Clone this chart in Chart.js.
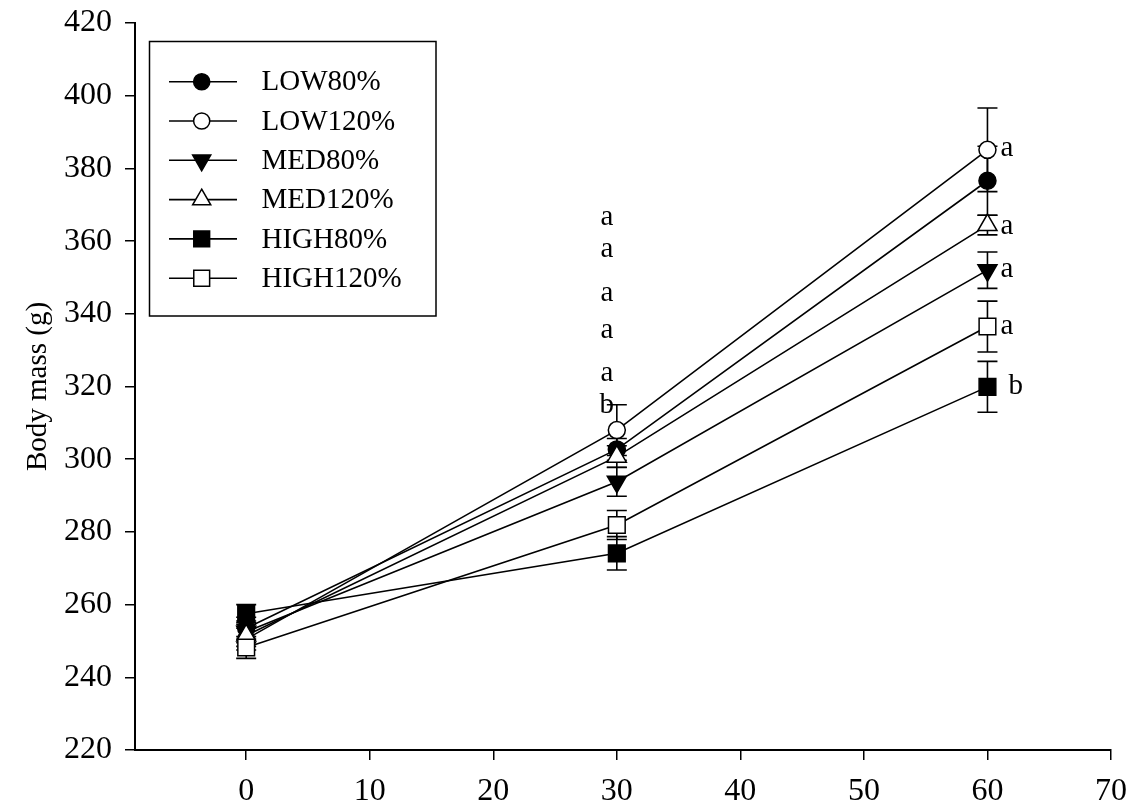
<!DOCTYPE html>
<html><head><meta charset="utf-8">
<style>html,body{margin:0;padding:0;background:#fff}#wrap{width:1132px;height:809px}</style>
<script src="https://cdn.jsdelivr.net/npm/chart.js@4.4.1/dist/chart.umd.min.js"></script>
</head><body><div id="wrap"><canvas id="c" width="1132" height="809"></canvas></div>
<script>
// ---------- data ----------
const days = [0, 30, 60];
const seriesNames = ['LOW80%', 'LOW120%', 'MED80%', 'MED120%', 'HIGH80%', 'HIGH120%'];
const low80 = [253.5, 302.7, 376.6];
const low80Err = [3, 3, 9.5];
const low120 = [250.5, 308.0, 385.1];
const low120Err = [3, 7, 11.5];
const med80 = [252.5, 293.8, 352.0];
const med80Err = [3, 4, 5];
const med120 = [251.5, 300.7, 364.4];
const med120Err = [3, 3, 2.7];
const high80 = [257.5, 274.1, 319.9];
const high80Err = [2.5, 4.6, 7];
const high120 = [248.2, 281.9, 336.5];
const high120Err = [3, 4, 7];
const yTickValues = [220, 240, 260, 280, 300, 320, 340, 360, 380, 400, 420];
const xTickValues = [0, 10, 20, 30, 40, 50, 60, 70];
const letters30 = ['a', 'a', 'a', 'a', 'a', 'b'];
const letters30Y = [366.6, 357.6, 345.7, 335.3, 323.6, 314.8];
const letters60 = ['a', 'a', 'a', 'a', 'b'];
const letters60Y = [385.5, 364.0, 352.2, 336.5, 320.0];

// ---------- styling ----------
const FONT = '"Liberation Serif", "Times New Roman", serif';
const FS = 29;
const TFS = 32;
const seriesValues = [low80, low120, med80, med120, high80, high120];
const seriesErrs = [low80Err, low120Err, med80Err, med120Err, high80Err, high120Err];
const markerStyles = [
  {shape: 'circle', fill: '#000', r: 8.5, rot: 0},
  {shape: 'circle', fill: '#fff', r: 8.5, rot: 0},
  {shape: 'triangle', fill: '#000', r: 11, rot: 180},
  {shape: 'triangle', fill: '#fff', r: 11, rot: 0},
  {shape: 'rect', fill: '#000', r: 11.8, rot: 0},
  {shape: 'rect', fill: '#fff', r: 11.8, rot: 0}
];

function drawMarker(ctx, st, x, y, scale) {
  const r = st.r * (scale || 1);
  ctx.save();
  ctx.beginPath();
  if (st.shape === 'circle') {
    ctx.arc(x, y, r, 0, Math.PI * 2);
  } else if (st.shape === 'rect') {
    const s = r * Math.SQRT1_2;
    ctx.rect(x - s, y - s, 2 * s, 2 * s);
  } else {
    const rad0 = st.rot * Math.PI / 180;
    for (let k = 0; k < 3; k++) {
      const a = rad0 + k * 2 * Math.PI / 3;
      const px = x + Math.sin(a) * r, py = y - Math.cos(a) * r;
      if (k === 0) ctx.moveTo(px, py); else ctx.lineTo(px, py);
    }
    ctx.closePath();
  }
  ctx.fillStyle = st.fill;
  ctx.fill();
  ctx.lineWidth = 1.5;
  ctx.strokeStyle = '#000';
  ctx.stroke();
  ctx.restore();
}

const datasets = seriesNames.map((name, i) => ({
  label: name,
  data: days.map((d, j) => ({x: d, y: seriesValues[i][j]})),
  borderColor: '#000',
  borderWidth: 1.6,
  backgroundColor: markerStyles[i].fill,
  pointBackgroundColor: markerStyles[i].fill,
  pointBorderColor: '#000',
  pointBorderWidth: 1.5,
  pointStyle: markerStyles[i].shape,
  pointRotation: markerStyles[i].rot,
  pointRadius: markerStyles[i].r,
  pointHoverRadius: markerStyles[i].r,
  tension: 0,
  fill: false,
  order: seriesNames.length - i
}));

const errorBars = {
  id: 'errorBars',
  beforeDatasetsDraw(chart) {
    const ctx = chart.ctx, ys = chart.scales.y;
    ctx.save();
    ctx.strokeStyle = '#000';
    ctx.lineWidth = 1.6;
    chart.data.datasets.forEach((ds, i) => {
      const meta = chart.getDatasetMeta(i);
      meta.data.forEach((pt, j) => {
        const v = seriesValues[i][j], e = seriesErrs[i][j];
        const yt = ys.getPixelForValue(v + e), yb = ys.getPixelForValue(v - e);
        ctx.beginPath();
        ctx.moveTo(pt.x, yt); ctx.lineTo(pt.x, yb);
        ctx.moveTo(pt.x - 10, yt); ctx.lineTo(pt.x + 10, yt);
        ctx.moveTo(pt.x - 10, yb); ctx.lineTo(pt.x + 10, yb);
        ctx.stroke();
      });
    });
    ctx.restore();
  }
};

const extras = {
  id: 'extras',
  afterDraw(chart) {
    const ctx = chart.ctx, xs = chart.scales.x, ys = chart.scales.y;
    ctx.save();
    ctx.fillStyle = '#000';
    ctx.font = FS + 'px ' + FONT;
    ctx.textBaseline = 'middle';
    // significance letters
    ctx.textAlign = 'center';
    letters30.forEach((t, k) => ctx.fillText(t, xs.getPixelForValue(30) - 10, ys.getPixelForValue(letters30Y[k])));
    ctx.textAlign = 'left';
    letters60.forEach((t, k) => ctx.fillText(t, xs.getPixelForValue(60) + (t === 'b' ? 21 : 13), ys.getPixelForValue(letters60Y[k])));
    // legend
    const bx = 149.5, by = 41.5, bw = 286.5, bh = 274.5;
    ctx.lineWidth = 1.5;
    ctx.strokeStyle = '#000';
    ctx.strokeRect(bx, by, bw, bh);
    seriesNames.forEach((name, i) => {
      const y = 81.7 + i * 39.3;
      ctx.beginPath();
      ctx.moveTo(169, y); ctx.lineTo(237, y);
      ctx.lineWidth = 1.6;
      ctx.stroke();
      drawMarker(ctx, markerStyles[i], 201.7, y, 0.95);
      ctx.fillStyle = '#000';
      ctx.textAlign = 'left';
      ctx.fillText(name, 261.5, y + 1);
    });
    ctx.restore();
  }
};

new Chart(document.getElementById('c'), {
  type: 'line',
  data: {datasets},
  plugins: [errorBars, extras],
  options: {
    responsive: false,
    animation: false,
    events: [],
    layout: {padding: {left: 0, top: 23, right: 21, bottom: 0}},
    plugins: {legend: {display: false}, tooltip: {enabled: false}, title: {display: false}},
    scales: {
      x: {
        type: 'linear',
        min: -9, max: 70,
        afterBuildTicks(s) { s.ticks = xTickValues.map(v => ({value: v})); },
        afterFit(s) { s.height = 59; s.paddingLeft = 0; s.paddingRight = 0; },
        ticks: {color: '#000', font: {family: FONT, size: TFS}, padding: 12, maxRotation: 0, autoSkip: false},
        grid: {display: true, drawOnChartArea: false, drawTicks: true, tickLength: 10, color: '#000', lineWidth: 1.5},
        border: {display: true, color: '#000', width: 2}
      },
      y: {
        type: 'linear',
        min: 220, max: 420,
        afterBuildTicks(s) { s.ticks = yTickValues.map(v => ({value: v})); },
        afterFit(s) { s.width = 135; s.paddingTop = 0; s.paddingBottom = 0; },
        ticks: {color: '#000', font: {family: FONT, size: TFS}, padding: 13, autoSkip: false},
        grid: {display: true, drawOnChartArea: false, drawTicks: true, tickLength: 10, color: '#000', lineWidth: 1.5},
        border: {display: true, color: '#000', width: 2},
        title: {display: true, text: 'Body mass (g)', color: '#000', font: {family: FONT, size: FS}, padding: {top: 21, bottom: 0}}
      }
    }
  }
});
</script>
</body></html>
